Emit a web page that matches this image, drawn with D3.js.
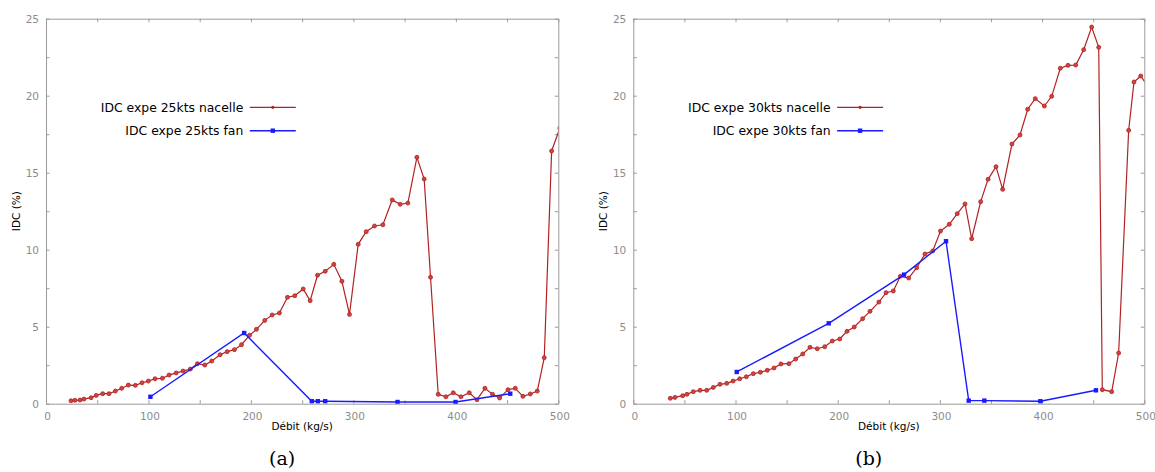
<!DOCTYPE html>
<html>
<head>
<meta charset="utf-8">
<script src="https://cdn.jsdelivr.net/npm/d3@7"></script>
<style>
  html, body { margin: 0; padding: 0; background: #fff; }
  svg { display: block; }
</style>
</head>
<body>
<svg id="chart" width="1155" height="472"></svg>
<script>
// ---------- Data ----------
const xTicks = [0, 100, 200, 300, 400, 500];
const yTicks = [0, 5, 10, 15, 20, 25];

// Panel (a) — 25 kts
const nac25X = [24.4, 28.3, 33.2, 37, 44, 49, 55.3, 61.5, 67.7, 73.9, 80.4, 87.2, 93.7, 99.9, 106.4, 113.6, 120.1, 127, 133.8, 140.9, 147.8, 155, 161.8, 169.9, 176.8, 183.9, 190.8, 198.6, 205.4, 213.5, 220.7, 227.8, 235.7, 242.8, 251, 257.8, 265, 272.5, 280.9, 288.8, 296.2, 304.7, 312.5, 320.6, 328.8, 337.9, 345.7, 353.2, 362, 369.1, 375.3, 382.8, 390.3, 397.5, 405, 413.1, 420.6, 428.4, 435.8, 442.7, 450.9, 458, 465.5, 472.7, 479.5, 486.3, 493.5, 501.5];
const nac25Y = [0.19, 0.22, 0.24, 0.3, 0.39, 0.54, 0.65, 0.65, 0.82, 1.0, 1.21, 1.19, 1.36, 1.47, 1.62, 1.65, 1.86, 2.0, 2.12, 2.25, 2.6, 2.51, 2.77, 3.18, 3.38, 3.51, 3.83, 4.44, 4.83, 5.41, 5.76, 5.89, 6.91, 7.01, 7.45, 6.69, 8.34, 8.6, 9.05, 7.95, 5.8, 10.35, 11.17, 11.54, 11.62, 13.23, 12.95, 13.03, 16.0, 14.59, 8.21, 0.61, 0.45, 0.71, 0.45, 0.71, 0.26, 1.0, 0.61, 0.37, 0.91, 1.0, 0.48, 0.63, 0.82, 2.99, 16.41, 17.9];
const fan25X = [101.9, 193.4, 259.4, 265.3, 272.5, 343.1, 399.7, 453.1];
const fan25Y = [0.45, 4.59, 0.16, 0.16, 0.16, 0.11, 0.11, 0.65];

// Panel (b) — 30 kts
const nac30X = [36.2, 40.8, 48.3, 52.5, 58.7, 65.3, 71.8, 78.3, 84.8, 91.4, 97.6, 104.1, 110.6, 117.4, 124.3, 131.1, 137.7, 144.5, 152.3, 158.9, 165.8, 172.9, 180, 187.3, 194.7, 202, 209.1, 216.2, 224.4, 231.6, 240.3, 247.3, 254.4, 261.3, 269.5, 277.3, 285.4, 293, 300.6, 309.2, 317, 324.6, 331.1, 339.9, 347.1, 354.9, 361.4, 370.5, 378.4, 385.9, 393.3, 402.2, 409.4, 417.8, 425.3, 432.9, 440.7, 448.5, 455.4, 458.9, 468.1, 474.9, 484.7, 489.9, 496.5, 503.5];
const nac30Y = [0.35, 0.41, 0.52, 0.61, 0.78, 0.87, 0.87, 1.06, 1.26, 1.32, 1.47, 1.62, 1.75, 1.95, 2.04, 2.17, 2.32, 2.58, 2.6, 2.9, 3.23, 3.66, 3.57, 3.7, 4.07, 4.2, 4.7, 4.98, 5.52, 6.0, 6.6, 7.21, 7.32, 8.27, 8.16, 8.83, 9.72, 9.92, 11.21, 11.65, 12.34, 12.97, 10.71, 13.12, 14.57, 15.39, 13.92, 16.86, 17.45, 19.12, 19.81, 19.33, 19.96, 21.78, 21.97, 21.99, 22.99, 24.46, 23.14, 0.91, 0.78, 3.29, 17.75, 20.89, 21.28, 20.6];
const fan30X = [101.2, 191.2, 264.9, 306, 328.2, 343.5, 398.3, 452.7];
const fan30Y = [2.06, 5.22, 8.38, 10.55, 0.2, 0.2, 0.16, 0.87];

const legendA = ["IDC expe 25kts nacelle", "IDC expe 25kts fan"];
const legendB = ["IDC expe 30kts nacelle", "IDC expe 30kts fan"];
const captions = ["(a)", "(b)"];
const xTitle = "Débit (kg/s)";
const yTitle = "IDC (%)";

// ---------- Styles ----------
const RED = "#b22222";
const BLUE = "#1a1aff";
const AXIS = "#9a9a9a";
const TICKTXT = "#8c8c8c";

const svg = d3.select("#chart");

function panel(idx, left, right, nacX, nacY, fanX, fanY, legend, caption) {
  const top = 18.7, bottom = 403.7;
  const x = d3.scaleLinear().domain([0, 500]).range([left, right]);
  const y = d3.scaleLinear().domain([0, 25]).range([bottom, top]);
  const g = svg.append("g");

  const clipId = "clip" + idx;
  svg.append("defs").append("clipPath").attr("id", clipId)
    .append("rect").attr("x", left).attr("y", top)
    .attr("width", right - left).attr("height", bottom - top);

  // Axes with inward ticks (bottom/left with labels, top/right mirrors)
  const tickLen = 3.5;
  const minorY = d3.range(0, 25.01, 2.5);
  const minorX = d3.range(0, 500.1, 50);

  const ax = (axisGen, tr) => {
    const a = g.append("g").attr("transform", tr).call(axisGen);
    a.select(".domain").attr("stroke", AXIS).attr("stroke-width", 1);
    a.selectAll(".tick line").attr("stroke", AXIS);
    return a;
  };
  ax(d3.axisBottom(x).tickValues(minorX).tickSize(-tickLen).tickSizeOuter(0).tickFormat(""), `translate(0,${bottom})`);
  ax(d3.axisTop(x).tickValues(minorX).tickSize(-tickLen).tickSizeOuter(0).tickFormat(""), `translate(0,${top})`);
  ax(d3.axisLeft(y).tickValues(minorY).tickSize(-tickLen).tickSizeOuter(0).tickFormat(""), `translate(${left},0)`);
  ax(d3.axisRight(y).tickValues(minorY).tickSize(-tickLen).tickSizeOuter(0).tickFormat(""), `translate(${right},0)`);

  // tick labels
  g.selectAll("text.xl").data(xTicks).enter().append("text")
    .attr("x", d => x(d) + 1.5).attr("y", bottom + 16)
    .attr("text-anchor", "middle")
    .attr("font-family", "DejaVu Sans").attr("font-size", 10.5)
    .attr("fill", TICKTXT).text(d => d);
  g.selectAll("text.yl").data(yTicks).enter().append("text")
    .attr("x", left - 7).attr("y", d => y(d) + 4)
    .attr("text-anchor", "end")
    .attr("font-family", "DejaVu Sans").attr("font-size", 10.5)
    .attr("fill", TICKTXT).text(d => d);

  // axis titles
  g.append("text").attr("x", (left + right) / 2).attr("y", bottom + 26)
    .attr("text-anchor", "middle").attr("font-family", "DejaVu Sans")
    .attr("font-size", 10.5).attr("fill", "#000").text(xTitle);
  const ylx = left - 26;
  g.append("text").attr("transform", `translate(${ylx},${(top + bottom) / 2}) rotate(-90)`)
    .attr("text-anchor", "middle").attr("font-family", "DejaVu Sans")
    .attr("font-size", 10.5).attr("fill", "#000").text(yTitle);

  // data
  const plot = g.append("g").attr("clip-path", `url(#${clipId})`);
  const nac = nacX.map((v, i) => [v, nacY[i]]);
  const fan = fanX.map((v, i) => [v, fanY[i]]);
  const line = d3.line().x(d => x(d[0])).y(d => y(d[1]));

  plot.append("path").datum(nac).attr("d", line)
    .attr("fill", "none").attr("stroke", RED).attr("stroke-width", 1.2);
  plot.selectAll("circle.n").data(nac).enter().append("circle")
    .attr("cx", d => x(d[0])).attr("cy", d => y(d[1])).attr("r", 2)
    .attr("fill", "#c44").attr("stroke", RED).attr("stroke-width", 0.8);

  plot.append("path").datum(fan).attr("d", line)
    .attr("fill", "none").attr("stroke", BLUE).attr("stroke-width", 1.4);
  plot.selectAll("rect.f").data(fan).enter().append("rect")
    .attr("x", d => x(d[0]) - 2.2).attr("y", d => y(d[1]) - 2.2)
    .attr("width", 4.4).attr("height", 4.4).attr("fill", BLUE);

  // legend
  const lgTextEnd = left + 197.3;
  const rows = [107.3, 130.7];
  const colors = [RED, BLUE];
  legend.forEach((t, i) => {
    g.append("text").attr("x", lgTextEnd).attr("y", rows[i] + 4.3)
      .attr("text-anchor", "end").attr("font-family", "DejaVu Sans")
      .attr("font-size", 12.4).attr("fill", "#000").text(t);
    g.append("line").attr("x1", lgTextEnd + 6.5).attr("x2", lgTextEnd + 52.5)
      .attr("y1", rows[i]).attr("y2", rows[i])
      .attr("stroke", colors[i]).attr("stroke-width", i === 0 ? 1.2 : 1.4);
    const mx = lgTextEnd + 29.5;
    if (i === 0) {
      g.append("circle").attr("cx", mx).attr("cy", rows[i]).attr("r", 1.6).attr("fill", RED);
    } else {
      g.append("rect").attr("x", mx - 2.2).attr("y", rows[i] - 2.2)
        .attr("width", 4.4).attr("height", 4.4).attr("fill", BLUE);
    }
  });

  // caption
  g.append("text").attr("x", (left + right) / 2 - 20).attr("y", 465)
    .attr("text-anchor", "middle").attr("font-family", "DejaVu Serif")
    .attr("font-size", 19).attr("fill", "#000").text(caption);
}

panel(0, 46, 558.3, nac25X, nac25Y, fan25X, fan25Y, legendA, captions[0]);
panel(1, 633.3, 1144.3, nac30X, nac30Y, fan30X, fan30Y, legendB, captions[1]);
</script>
</body>
</html>
